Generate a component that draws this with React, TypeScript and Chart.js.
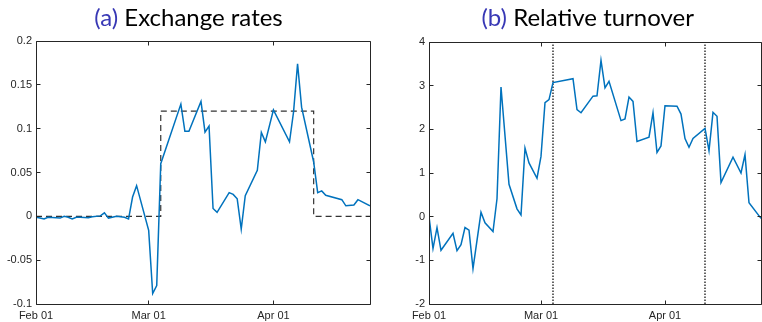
import React, { useEffect, useRef } from 'react';
import { Chart, registerables } from 'chart.js';

Chart.register(...registerables);

// ---- shared axis data ----
const tickDays = [0, 28, 59];
const tickLabels = ['Feb 01', 'Mar 01', 'Apr 01'];
const dayMin = 0;
const dayMax = 83;

// ---- (a) Exchange rates ----
const fxDays = [0, 1, 2, 3, 6, 7, 8, 9, 10, 11, 13, 14, 16, 17, 18, 20, 22, 23, 24, 25, 28, 29, 30, 31, 36, 37, 38, 41, 42, 43, 44, 45, 48, 49, 50, 51, 52, 55, 56, 57, 59, 63, 64, 65, 66, 69, 70, 71, 72, 76, 77, 79, 80, 83];
const fxValues = [-0.001, -0.002, -0.003, -0.001, -0.002, 0.0, -0.001, -0.003, -0.001, -0.001, -0.0015, -0.0005, 0.0005, 0.004, -0.002, 0.0, -0.001, -0.003, 0.022, 0.035, -0.016, -0.088, -0.079, 0.06, 0.128, 0.097, 0.097, 0.131, 0.096, 0.103, 0.009, 0.0045, 0.027, 0.025, 0.02, -0.0145, 0.0235, 0.0526, 0.0958, 0.085, 0.1215, 0.085, 0.119, 0.174, 0.1245, 0.062, 0.027, 0.029, 0.024, 0.019, 0.012, 0.013, 0.019, 0.012];
const fxYTicks = [-0.1, -0.05, 0, 0.05, 0.1, 0.15, 0.2];
const eventDays = [31, 69];
const eventLevel = 0.12;

// ---- (b) Relative turnover ----
const turnDays = [0, 1, 2, 3, 6, 7, 8, 9, 10, 11, 13, 14, 16, 17, 18, 20, 22, 23, 24, 25, 27, 28, 29, 30, 31, 36, 37, 38, 41, 42, 43, 44, 45, 48, 49, 50, 51, 52, 55, 56, 57, 58, 59, 62, 63, 64, 65, 66, 69, 70, 71, 72, 73, 76, 78, 79, 80, 83];
const turnValues = [0, -0.73, -0.25, -0.77, -0.38, -0.78, -0.64, -0.25, -0.31, -1.19, 0.1, -0.14, -0.34, 0.41, 2.97, 0.74, 0.18, 0.04, 1.57, 1.23, 0.88, 1.38, 2.61, 2.68, 3.07, 3.16, 2.45, 2.38, 2.76, 2.77, 3.58, 2.95, 3.1, 2.2, 2.24, 2.74, 2.64, 1.72, 1.82, 2.38, 1.47, 1.62, 2.54, 2.53, 2.35, 1.79, 1.59, 1.79, 2.02, 1.51, 2.39, 2.3, 0.78, 1.36, 1.0, 1.42, 0.32, -0.04];
const turnYTicks = [-2, -1, 0, 1, 2, 3, 4];

const BLUE = '#0072BD';
const AXIS = '#262626';
const TICK_FONT = { family: '"Liberation Sans", Arial, sans-serif', size: 11 };

function pts(xs: number[], ys: number[]) {
  return xs.map((x, i) => ({ x, y: ys[i] }));
}

const framePlugin = {
  id: 'frame',
  afterDatasetsDraw(chart: any, _args: any, opts: any) {
    const { ctx, chartArea: a, scales } = chart;
    ctx.save();
    ctx.strokeStyle = AXIS;
    ctx.lineWidth = 1;
    const L = Math.floor(a.left) + 0.5;
    const R = Math.floor(a.right) + 0.5;
    const T = Math.floor(a.top) + 0.5;
    const B = Math.floor(a.bottom) + 0.5;
    ctx.beginPath();
    ctx.rect(L, T, R - L, B - T);
    const tl = 4;
    scales.x.ticks.forEach((t: any) => {
      const px = Math.floor(scales.x.getPixelForValue(t.value)) + 0.5;
      ctx.moveTo(px, B);
      ctx.lineTo(px, B - tl);
      ctx.moveTo(px, T);
      ctx.lineTo(px, T + tl);
    });
    scales.y.ticks.forEach((t: any) => {
      const py = Math.floor(scales.y.getPixelForValue(t.value)) + 0.5;
      ctx.moveTo(L, py);
      ctx.lineTo(L + tl, py);
      ctx.moveTo(R, py);
      ctx.lineTo(R - tl, py);
    });
    ctx.stroke();

    // title
    ctx.font = '24px Lato, "DejaVu Sans", sans-serif';
    ctx.textBaseline = 'alphabetic';
    ctx.textAlign = 'left';
    const pre = opts.prefix + ' ';
    const full = pre + opts.text;
    const w = ctx.measureText(full).width;
    const x0 = opts.cx - w / 2;
    ctx.fillStyle = '#3838b5';
    ctx.fillText(pre, x0, opts.baseline);
    ctx.fillStyle = '#000000';
    ctx.fillText(opts.text, x0 + ctx.measureText(pre).width, opts.baseline);
    ctx.restore();
  },
};

function baseOptions(yMin: number, yMax: number, yTicks: number[], yWidth: number, pad: any, frame: any, yFmt: (v: number) => string) {
  return {
    responsive: false,
    animation: false,
    events: [],
    layout: { padding: pad },
    plugins: {
      legend: { display: false },
      tooltip: { enabled: false },
      title: { display: false },
      frame,
    },
    scales: {
      x: {
        type: 'linear',
        min: dayMin,
        max: dayMax,
        grid: { display: false, drawTicks: false },
        border: { display: false },
        afterBuildTicks: (s: any) => {
          s.ticks = tickDays.map((v) => ({ value: v }));
        },
        afterFit: (s: any) => {
          s.height = 18;
        },
        ticks: {
          padding: 5,
          maxRotation: 0,
          autoSkip: false,
          color: AXIS,
          font: TICK_FONT,
          callback: (v: number) => {
            const i = tickDays.indexOf(v);
            return i >= 0 ? tickLabels[i] : '';
          },
        },
      },
      y: {
        type: 'linear',
        min: yMin,
        max: yMax,
        grid: { display: false, drawTicks: false },
        border: { display: false },
        afterBuildTicks: (s: any) => {
          s.ticks = yTicks.map((v) => ({ value: v }));
        },
        afterFit: (s: any) => {
          s.width = yWidth;
        },
        ticks: {
          padding: 4,
          autoSkip: false,
          color: AXIS,
          font: TICK_FONT,
          callback: (v: number) => yFmt(v),
        },
      },
    },
  };
}

export default function App() {
  const leftRef = useRef<HTMLCanvasElement>(null);
  const rightRef = useRef<HTMLCanvasElement>(null);

  useEffect(() => {
    const boxData = [
      { x: dayMin, y: 0 },
      { x: eventDays[0], y: 0 },
      { x: eventDays[0], y: eventLevel },
      { x: eventDays[1], y: eventLevel },
      { x: eventDays[1], y: 0 },
      { x: dayMax, y: 0 },
    ];
    const left = new Chart(leftRef.current as HTMLCanvasElement, {
      type: 'line',
      data: {
        datasets: [
          {
            data: pts(fxDays, fxValues),
            borderColor: BLUE,
            borderWidth: 1.5,
            pointRadius: 0,
            tension: 0,
            fill: false,
            order: 0,
          },
          {
            data: boxData,
            borderColor: '#333333',
            borderWidth: 1.2,
            borderDash: [6, 4],
            pointRadius: 0,
            tension: 0,
            fill: false,
            order: 1,
          },
        ],
      },
      options: baseOptions(
        fxYTicks[0],
        fxYTicks[fxYTicks.length - 1],
        fxYTicks,
        36,
        { top: 41, right: 11, bottom: 0, left: 0 },
        { prefix: '(a)', text: 'Exchange rates', cx: 188.5, baseline: 26 },
        (v) => String(Number(v.toFixed(2)))
      ) as any,
      plugins: [framePlugin],
    });

    const yLo = turnYTicks[0];
    const yHi = turnYTicks[turnYTicks.length - 1];
    const right = new Chart(rightRef.current as HTMLCanvasElement, {
      type: 'line',
      data: {
        datasets: [
          {
            data: pts(turnDays, turnValues),
            borderColor: BLUE,
            borderWidth: 1.5,
            pointRadius: 0,
            tension: 0,
            fill: false,
            order: 0,
          },
          ...eventDays.map((d) => ({
            data: [
              { x: d, y: yLo },
              { x: d, y: yHi },
            ],
            borderColor: '#000000',
            borderWidth: 1.2,
            borderDash: [1.5, 1.5],
            pointRadius: 0,
            fill: false,
            order: 1,
          })),
        ],
      },
      options: baseOptions(
        yLo,
        yHi,
        turnYTicks,
        48,
        { top: 42, right: 1, bottom: 0, left: 0 },
        { prefix: '(b)', text: 'Relative turnover', cx: 206.7, baseline: 26 },
        (v) => String(v)
      ) as any,
      plugins: [framePlugin],
    });

    return () => {
      left.destroy();
      right.destroy();
    };
  }, []);

  return (
    <div style={{ position: 'absolute', left: 0, top: 0, width: 762, height: 322, background: '#ffffff' }}>
      <canvas ref={leftRef} width={381} height={322} style={{ position: 'absolute', left: 0, top: 0, width: 381, height: 322 }} />
      <canvas ref={rightRef} width={381} height={322} style={{ position: 'absolute', left: 381, top: 0, width: 381, height: 322 }} />
    </div>
  );
}
